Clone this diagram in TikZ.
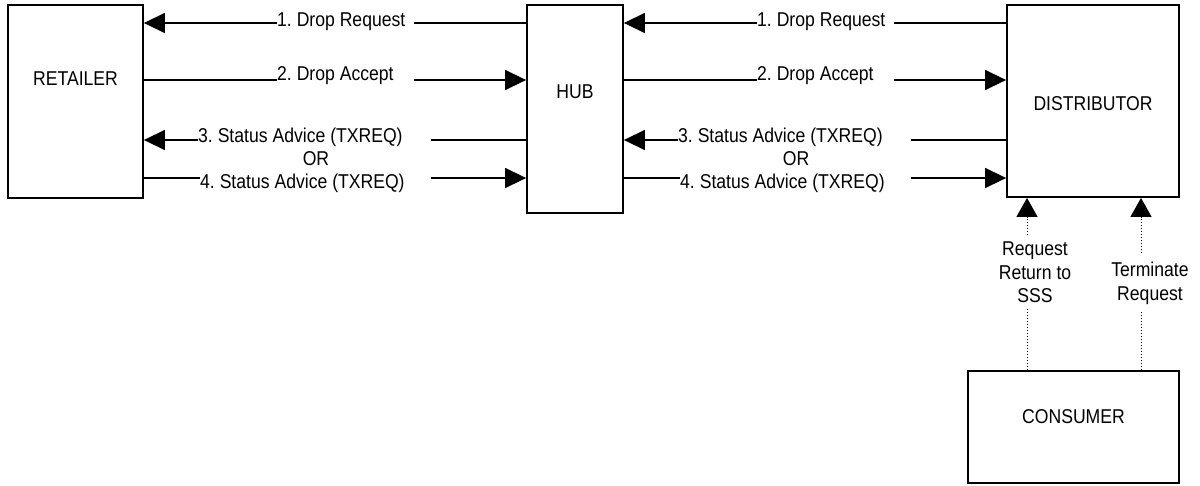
\documentclass[tikz,border=0pt]{standalone}
\usepackage{fontspec}
\setmainfont{Liberation Sans}[FakeStretch=0.88]
\usetikzlibrary{arrows.meta}
\begin{document}
\frenchspacing
\begin{tikzpicture}[x=1pt,y=-1pt,
  every node/.style={font=\fontsize{20}{23.5}\selectfont\frenchspacing},
  box/.style={draw, line width=1.8pt, inner sep=0pt},
  boxlabel/.style={anchor=base, inner sep=0pt},
  conn/.style={line width=1.5pt, -{Triangle[length=21pt,width=20pt]}},
  msg/.style={anchor=base west, fill=white, inner sep=0pt},
  dotconn/.style={line width=1pt, dash pattern=on 1pt off 2pt, -{Triangle[length=19pt,width=21pt]}},
  vmsg/.style={anchor=north, align=center, fill=white, inner xsep=2pt}
]
\useasboundingbox (0,0) rectangle (1200,485);

% boxes
\node[box, minimum width=135pt, minimum height=193pt] (ret) at (75.5,101.5) {};
\node[box, minimum width=96pt, minimum height=208pt] (hub) at (575,109) {};
\node[box, minimum width=172pt, minimum height=192pt] (dist) at (1093,101) {};
\node[box, minimum width=211pt, minimum height=112pt] (cons) at (1073.5,427) {};

\node[boxlabel] (retl) at (75.5,85) {RETAILER};
\node[boxlabel] (hubl) at (575,98) {HUB};
\node[boxlabel] (distl) at (1093,110) {DISTRIBUTOR};
\node[boxlabel] (consl) at (1073.5,423) {CONSUMER};

% retailer <-> hub
\draw[conn] (hub.west |- 0,23) -- (ret.east |- 0,23);
\draw[conn] (ret.east |- 0,80) -- (hub.west |- 0,80);
\draw[conn] (hub.west |- 0,140) -- (ret.east |- 0,140);
\draw[conn] (ret.east |- 0,178) -- (hub.west |- 0,178);

\node[msg] (m1) at (277,26) {1. Drop Request\hspace*{9pt}};
\node[msg] (m2) at (277,80) {2. Drop Accept\hspace*{20pt}};
\node[msg] (m3) at (198,142) {3. Status Advice (TXREQ)\hspace*{28pt}};
\node[boxlabel] (or1) at (316,165) {OR};
\node[msg] (m4) at (200,188) {4. Status Advice (TXREQ)\hspace*{26pt}};

% hub <-> distributor
\draw[conn] (dist.west |- 0,23) -- (hub.east |- 0,23);
\draw[conn] (hub.east |- 0,80) -- (dist.west |- 0,80);
\draw[conn] (dist.west |- 0,140) -- (hub.east |- 0,140);
\draw[conn] (hub.east |- 0,178) -- (dist.west |- 0,178);

\node[msg] (n1) at (757,26) {1. Drop Request\hspace*{9pt}};
\node[msg] (n2) at (757,80) {2. Drop Accept\hspace*{20pt}};
\node[msg] (n3) at (678,142) {3. Status Advice (TXREQ)\hspace*{28pt}};
\node[boxlabel] (or2) at (796,165) {OR};
\node[msg] (n4) at (680,188) {4. Status Advice (TXREQ)\hspace*{26pt}};

% consumer -> distributor
\draw[dotconn] (cons.north -| 1027,0) -- (dist.south -| 1027,0);
\draw[dotconn] (cons.north -| 1141,0) -- (dist.south -| 1141,0);

\node[vmsg, inner ysep=5pt] (rr) at (1035,237) {Request\\Return to\\SSS};
\node[vmsg, inner ysep=7pt] (tr) at (1150,255) {Terminate\\Request};
\end{tikzpicture}
\end{document}
